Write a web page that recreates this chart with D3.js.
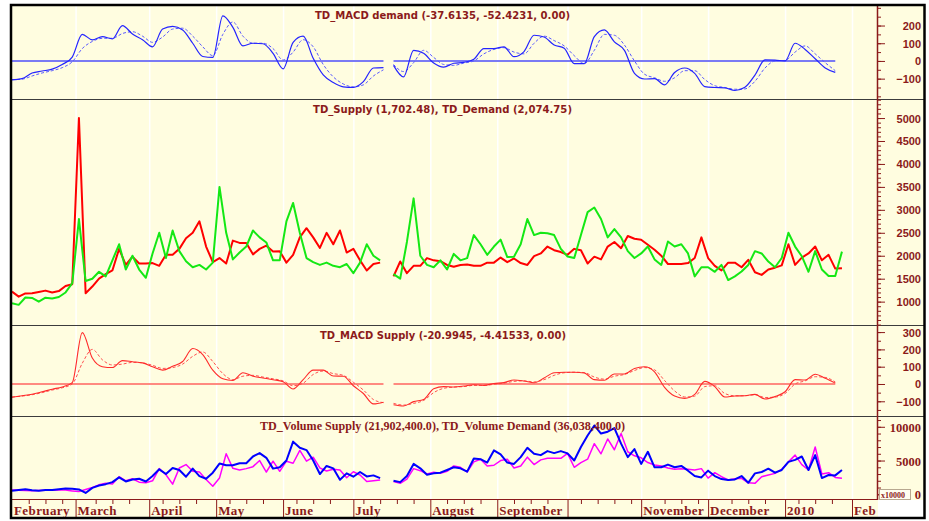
<!DOCTYPE html>
<html>
<head>
<meta charset="utf-8">
<script src="https://cdn.jsdelivr.net/npm/d3@7"></script>
<style>
  html, body { margin: 0; padding: 0; background: #fff; }
  svg { display: block; }
</style>
</head>
<body>
<svg id="chart" width="929" height="521"></svg>
<script>
// month labels on the date axis (October is blank in the original)
const months = ["February", "March", "April", "May", "June", "July", "August",
  "September", "", "November", "December", "2010", "Feb"];
// trading day index where each month starts
const monthStart = [0, 19, 41, 61, 81, 102, 125, 145, 166, 188, 208, 231, 251];
const gapDay = 112; // no data around here (mid July)

// MACD series, one value every 3 trading days
const macdDemand = [-107, -100, -68, -57, -46, -20, 22, 150, 119, 137,
  125, 200, 152, 120, 80, 180, 195, 175, 100, 25,
  20, 255, 190, 85, 100, 97, 43, -45, 105, 140,
  15, -79, -122, -146, -149, -117, -40, -38, -25, -90,
  60, 43, -12, -35, -13, -8, 10, 70, 70, 80,
  24, 53, 145, 135, 90, 72, -15, -15, 137, 175,
  108, 60, -70, -102, -100, -135, -65, -40, -70, -145,
  -150, -152, -167, -149, -80, 6, 5, 0, 100, 65,
  12, -40, -65];
const macdDemandSig = [-105, -103, -85, -68, -55, -38, -5, 70, 110, 128,
  128, 155, 165, 140, 105, 135, 180, 185, 140, 80,
  30, 150, 220, 140, 100, 100, 70, 5, 50, 120,
  80, -20, -90, -130, -147, -135, -85, -50, -20, -60,
  -10, 60, 20, -20, -25, -12, 0, 40, 65, 75,
  50, 40, 100, 140, 115, 85, 30, -15, 60, 150,
  145, 90, 0, -75, -95, -115, -95, -55, -55, -105,
  -140, -150, -160, -158, -115, -40, 0, 3, 50, 85,
  40, -10, -55];
const macdSupply = [-77, -68, -59, -45, -30, -17, 8, 297, 150, 100,
  95, 135, 129, 122, 100, 80, 102, 130, 205, 170,
  80, 30, 20, 65, 45, 35, 25, 13, -29, 25,
  80, 80, 46, 45, -10, -55, -115, -105, -120, -127,
  -102, -90, -28, -15, -17, -12, -4, -8, 3, 8,
  23, 17, 7, 35, 65, 68, 68, 64, 25, 22,
  58, 58, 90, 100, 70, -20, -70, -83, -60, 15,
  -15, -75, -69, -68, -60, -87, -73, -45, 25, 23,
  56, 33, 5];
const macdSupplySig = [-75, -70, -62, -50, -35, -22, 0, 120, 200, 140,
  110, 115, 125, 122, 108, 90, 95, 115, 160, 185,
  130, 60, 25, 45, 50, 40, 30, 18, -10, 5,
  55, 75, 60, 50, 10, -35, -90, -108, -112, -122,
  -112, -95, -50, -25, -18, -15, -8, -8, -2, 5,
  15, 18, 12, 25, 50, 65, 68, 66, 40, 28,
  45, 55, 78, 95, 82, 20, -40, -75, -70, -15,
  -10, -55, -68, -68, -62, -78, -76, -55, 0, 18,
  42, 38, 12];

// TD supply / demand, one value every 2 trading days
const tdSupply = [1218, 1109, 1180, 1183, 1210, 1240, 1200, 1230, 1340, 1380,
  5000, 1183, 1328, 1500, 1600, 1680, 2150, 1800, 1980, 1830,
  1830, 1840, 1780, 2020, 2020, 2150, 2380, 2500, 2750, 2200,
  1860, 1950, 1830, 2330, 2280, 2280, 2030, 2150, 2220, 2090,
  2100, 1850, 2020, 2400, 2600, 2400, 2170, 2500, 2250, 2550,
  2070, 2150, 1900, 1680, 1820, 1850, null, 1550, 1874, 1620,
  1780, 1780, 1948, 1900, 1880, 1800, 1760, 1800, 1810, 1780,
  1780, 1850, 1850, 1960, 1860, 1940, 1840, 1800, 1990, 2050,
  2200, 2120, 2080, 2020, 2150, 2120, 1830, 1980, 1920, 2200,
  2300, 2165, 2430, 2370, 2350, 2238, 2130, 2000, 1820, 1820,
  1820, 1840, 1950, 2400, 1950, 1780, 1680, 1850, 1850, 1750,
  1911, 1640, 1583, 1700, 1740, 1790, 2250, 1800, 1960, 2050,
  2200, 1900, 2020, 1720, 1730];
const tdDemand = [965, 930, 1090, 1080, 1000, 1085, 1070, 1100, 1200, 1400,
  2800, 1450, 1500, 1650, 1550, 1900, 2250, 1700, 2000, 1700,
  1520, 2050, 2500, 1950, 2550, 2100, 1880, 1750, 1800, 1700,
  1850, 3500, 2500, 1920, 2070, 2200, 2550, 2400, 2290, 1900,
  1900, 2750, 3150, 2500, 1950, 1860, 1800, 1850, 1780, 1750,
  1820, 1620, 1850, 2250, 2000, 1900, null, 1600, 1500, 2300,
  3250, 2000, 1800, 1750, 1900, 1700, 2040, 1900, 1948, 2450,
  2250, 2020, 2200, 2350, 1970, 1980, 2250, 2800, 2450, 2500,
  2490, 2450, 2150, 1984, 1950, 2450, 2950, 3050, 2800, 2400,
  2580, 2400, 2100, 1950, 2050, 2200, 1920, 1800, 2310, 2200,
  2250, 2050, 1550, 1750, 1750, 1650, 1800, 1470, 1550, 1656,
  1800, 2100, 2050, 1874, 1750, 1950, 2500, 2200, 1990, 1650,
  2100, 1700, 1560, 1560, 2090];

// TD volume (x10000), one value every 2 trading days
const volSupply = [636, 600, 570, 533, 560, 590, 610, 636, 620, 500,
  400, 700, 1000, 1400, 1650, 1530, 2600, 2000, 2300, 1800,
  1700, 2000, 3800, 2900, 1500, 3900, 4400, 3400, 3300, 2200,
  1200, 2400, 6000, 3846, 3600, 3800, 4093, 5000, 3300, 4900,
  3400, 4900, 4600, 6500, 4900, 5500, 3900, 3450, 3700, 3600,
  2450, 3343, 2860, 1900, 2000, 2115, null, 1900, 1617, 2250,
  3800, 3500, 3000, 3250, 3100, 3400, 4200, 4000, 3300, 4800,
  5200, 4200, 4300, 5000, 5200, 3900, 4200, 5500, 4400, 5100,
  5325, 5325, 5325, 6060, 4000, 4700, 5200, 7500, 6000, 8200,
  6600, 9000, 6300, 5700, 5400, 4700, 4334, 4200, 3900, 3700,
  3800, 3700, 3600, 3800, 2400, 3200, 2600, 2115, 2300, 2367,
  1700, 1617, 2600, 2855, 3100, 3700, 4800, 5800, 4400, 3600,
  7000, 3000, 3200, 2500, 2370];
const volDemand = [533, 640, 740, 600, 540, 620, 650, 750, 860, 820,
  720, 200, 950, 1300, 1500, 1800, 2500, 1900, 2200, 2300,
  1900, 2700, 3700, 3000, 3900, 3600, 2600, 3800, 2700, 2300,
  3200, 4550, 4300, 4300, 4600, 4600, 5600, 6100, 5400, 3800,
  4000, 5000, 7800, 6900, 6550, 5000, 3000, 4200, 3846, 2150,
  3100, 2600, 3300, 2650, 2800, 2400, null, 2000, 1800, 2700,
  4500, 3846, 2900, 3100, 3200, 3600, 4000, 3850, 3350, 5300,
  5200, 4700, 6500, 5900, 4700, 4500, 5500, 6900, 6000, 5800,
  6400, 6100, 6400, 6060, 5000, 7000, 8700, 10200, 9000, 9270,
  9800, 7500, 5500, 6700, 4500, 6300, 4000, 4000, 4400, 4000,
  4200, 3500, 2700, 2500, 3500, 2700, 2250, 2115, 2200, 2700,
  1700, 3100, 3300, 3800, 3200, 3600, 4800, 5100, 5600, 3600,
  5800, 2400, 2855, 2800, 3600];

const titles = ["TD_MACD demand (-37.6135, -52.4231, 0.00)",
  "TD_Supply (1,702.48), TD_Demand (2,074.75)",
  "TD_MACD Supply (-20.9945, -4.41533, 0.00)",
  "TD_Volume Supply (21,902,400.0), TD_Volume Demand (36,038,400.0)"];

const bg = "#fffde0";
const maroon = "#8b1a1a";
const axisX = 877;

const svg = d3.select("#chart");

// background + frame
svg.append("rect").attr("x", 11).attr("y", 5).attr("width", 913).attr("height", 513).attr("fill", bg);
svg.append("rect").attr("x", 878).attr("y", 500).attr("width", 46).attr("height", 18).attr("fill", "#fff");

const x = d3.scaleLinear().domain([0, 251]).range([12, 852]);

// faint month gridlines
svg.append("g").selectAll("line").data(monthStart.slice(1)).join("line")
  .attr("x1", d => x(d) + 0.5).attr("x2", d => x(d) + 0.5)
  .attr("y1", 6).attr("y2", 499)
  .attr("stroke", "#ffffff").attr("stroke-width", 1.5);

// panels
const panels = [
  { top: 5, bottom: 99, domain: [-215, 316], minor: d3.range(-200, 301, 50), major: [-100, 0, 100, 200],
    title: titles[0], tx: 315, tw: 255, font: "DejaVu Sans, sans-serif", labelFont: "Liberation Sans, Arial, sans-serif" },
  { top: 99, bottom: 325, domain: [491, 5415], minor: d3.range(500, 5401, 100), major: d3.range(1000, 5001, 500),
    title: titles[1], tx: 313, tw: 259, font: "DejaVu Sans, sans-serif", labelFont: "Liberation Sans, Arial, sans-serif" },
  { top: 325, bottom: 416, domain: [-185, 341], minor: d3.range(-150, 301, 50), major: [-100, 0, 100, 200, 300],
    title: titles[2], tx: 320, tw: 246, font: "DejaVu Sans, sans-serif", labelFont: "Liberation Sans, Arial, sans-serif" },
  { top: 416, bottom: 499, domain: [-700, 11600], minor: d3.range(0, 11001, 1000), major: [0, 5000, 10000],
    title: titles[3], tx: 260, tw: 365, font: "Liberation Serif, Times New Roman, serif", labelFont: "Liberation Serif, Times New Roman, serif" }
];
panels.forEach(p => {
  p.y = d3.scaleLinear().domain(p.domain).range([p.bottom, p.top]);
});

function segs(values, step) {
  const pts = values.map((v, i) => ({ day: i * step, v })).filter(d => d.v != null);
  return [pts.filter(d => d.day < gapDay), pts.filter(d => d.day > gapDay)];
}

function drawSeries(p, values, step, color, width, dash, curve) {
  const line = d3.line().x(d => x(d.day)).y(d => p.y(d.v)).curve(curve || d3.curveLinear);
  svg.append("g").selectAll("path").data(segs(values, step)).join("path")
    .attr("d", line)
    .attr("fill", "none")
    .attr("stroke", color)
    .attr("stroke-width", width)
    .attr("stroke-dasharray", dash || null)
    .attr("stroke-linejoin", "round");
}

function zeroLine(p, values, step, color) {
  const line = d3.line().x(d => x(d.day)).y(() => p.y(0));
  svg.append("g").selectAll("path").data(segs(values, step)).join("path")
    .attr("d", line).attr("fill", "none").attr("stroke", color).attr("stroke-width", 2);
}

// MACD demand
zeroLine(panels[0], macdDemand, 3, "#7a7af4");
drawSeries(panels[0], macdDemandSig, 3, "#5a5aff", 1, "3,2", d3.curveMonotoneX);
drawSeries(panels[0], macdDemand, 3, "#2424ff", 1.2, null, d3.curveMonotoneX);

// supply / demand
drawSeries(panels[1], tdSupply, 2, "#ff0000", 2);
drawSeries(panels[1], tdDemand, 2, "#14e814", 2);

// MACD supply
zeroLine(panels[2], macdSupply, 3, "#ff8a80");
drawSeries(panels[2], macdSupplySig, 3, "#ff5050", 1, "3,2", d3.curveMonotoneX);
drawSeries(panels[2], macdSupply, 3, "#ff2a2a", 1.1, null, d3.curveMonotoneX);

// volume
drawSeries(panels[3], volSupply, 2, "#ff00ff", 1.5);
drawSeries(panels[3], volDemand, 2, "#0000ff", 2);

// panel separators
svg.append("g").selectAll("line").data([99, 325, 416]).join("line")
  .attr("x1", 12).attr("x2", 924).attr("y1", d => d + 0.5).attr("y2", d => d + 0.5)
  .attr("stroke", "#3c3c3c").attr("stroke-width", 1);

// titles
panels.forEach(p => {
  svg.append("text")
    .attr("x", p.tx).attr("y", p.top + 14)
    .attr("textLength", p.tw).attr("lengthAdjust", "spacingAndGlyphs")
    .attr("font-family", p.font).attr("font-size", p === panels[3] ? 12 : 10.5)
    .attr("font-weight", "bold").attr("fill", maroon)
    .text(p.title);
});

// right value axes
panels.forEach(p => {
  const gMinor = svg.append("g").attr("transform", `translate(${axisX},0)`)
    .call(d3.axisRight(p.y).tickValues(p.minor).tickSize(4).tickFormat(""));
  gMinor.select(".domain").remove();
  gMinor.selectAll("line").attr("stroke", maroon);

  const gMajor = svg.append("g").attr("transform", `translate(${axisX},0)`)
    .call(d3.axisRight(p.y).tickValues(p.major).tickSize(8).tickFormat(d3.format("d")));
  gMajor.select(".domain").remove();
  gMajor.selectAll("line").attr("stroke", maroon);
  gMajor.selectAll("text")
    .attr("x", 44).attr("text-anchor", "end").attr("dy", "0.36em")
    .attr("font-family", p.labelFont)
    .attr("font-size", p === panels[3] ? 12.5 : 11)
    .attr("font-weight", "bold").attr("fill", maroon);
});
svg.append("line").attr("x1", axisX + 0.5).attr("x2", axisX + 0.5).attr("y1", 5).attr("y2", 500)
  .attr("stroke", maroon).attr("stroke-width", 1.5);

// x10000 multiplier box
svg.append("rect").attr("x", 879.5).attr("y", 489.5).attr("width", 31).attr("height", 10)
  .attr("fill", "#fffef0").attr("stroke", "#b8a890").attr("stroke-width", 1);
svg.append("text").attr("x", 881).attr("y", 497.5)
  .attr("font-family", "Liberation Serif, serif").attr("font-size", 8).attr("font-weight", "bold")
  .attr("fill", maroon).text("x10000");

// date axis
svg.append("line").attr("x1", 12).attr("x2", axisX).attr("y1", 499.5).attr("y2", 499.5)
  .attr("stroke", maroon).attr("stroke-width", 1);
const weekTicks = d3.range(5, 251, 5).filter(d => monthStart.every(m => Math.abs(m - d) > 2));
svg.append("g").selectAll("line").data(weekTicks).join("line")
  .attr("x1", d => x(d) + 0.5).attr("x2", d => x(d) + 0.5)
  .attr("y1", 500).attr("y2", 504)
  .attr("stroke", maroon);
svg.append("g").selectAll("line").data(monthStart.slice(1)).join("line")
  .attr("x1", d => x(d) + 0.5).attr("x2", d => x(d) + 0.5)
  .attr("y1", 500).attr("y2", 517)
  .attr("stroke", maroon);
svg.append("g").selectAll("text").data(months).join("text")
  .attr("x", (d, i) => x(monthStart[i]) + 2)
  .attr("y", 515)
  .attr("font-family", "Liberation Serif, Times New Roman, serif")
  .attr("font-size", 13).attr("font-weight", "bold")
  .attr("letter-spacing", 0.4)
  .attr("fill", maroon)
  .text(d => d);

// outer frame
svg.append("rect").attr("x", 11).attr("y", 5).attr("width", 913.5).attr("height", 513)
  .attr("fill", "none").attr("stroke", "#000").attr("stroke-width", 2.5);
</script>
</body>
</html>
